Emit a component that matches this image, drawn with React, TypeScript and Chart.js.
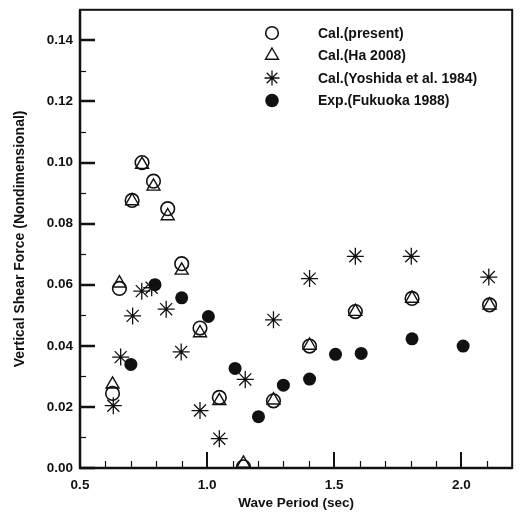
import React, { useEffect, useRef } from 'react';
import { Chart, registerables } from 'chart.js';
import { drawPoint } from 'chart.js/helpers';

Chart.register(...registerables);

// ---- data ----
const periodsCal = [0.628, 0.655, 0.705, 0.744, 0.789, 0.845, 0.900, 0.972, 1.048, 1.143, 1.261, 1.403, 1.583, 1.806, 2.111];
const calPresent = [0.0244, 0.0588, 0.0876, 0.1000, 0.0939, 0.0849, 0.0669, 0.0458, 0.0231, 0.0004, 0.0220, 0.0399, 0.0512, 0.0555, 0.0534];
const calHa = [0.0274, 0.0605, 0.0874, 0.0993, 0.0922, 0.0825, 0.0647, 0.0442, 0.0220, 0.0015, 0.0222, 0.0401, 0.0512, 0.0555, 0.0533];

const periodsYoshida = [0.631, 0.660, 0.707, 0.743, 0.782, 0.839, 0.898, 0.972, 1.048, 1.150, 1.261, 1.403, 1.583, 1.803, 2.108];
const calYoshida = [0.0204, 0.0363, 0.0498, 0.0579, 0.0590, 0.0520, 0.0380, 0.0188, 0.0096, 0.0290, 0.0485, 0.0620, 0.0693, 0.0693, 0.0625];

const periodsExp = [0.700, 0.795, 0.900, 1.005, 1.110, 1.202, 1.300, 1.403, 1.505, 1.606, 1.806, 2.007];
const expFukuoka = [0.0339, 0.0600, 0.0557, 0.0496, 0.0326, 0.0168, 0.0271, 0.0291, 0.0372, 0.0375, 0.0423, 0.0399];

const seriesLabels = ['Cal.(present)', 'Cal.(Ha 2008)', 'Cal.(Yoshida et al. 1984)', 'Exp.(Fukuoka 1988)'];

const X_TICKS = [0.5, 1.0, 1.5, 2.0];
const X_MINOR = [0.6, 0.7, 0.8, 0.9, 1.1, 1.2, 1.3, 1.4, 1.6, 1.7, 1.8, 1.9, 2.1];
const Y_TICKS = [0, 0.02, 0.04, 0.06, 0.08, 0.10, 0.12, 0.14];
const Y_MINOR = [0.01, 0.03, 0.05, 0.07, 0.09, 0.11, 0.13];

const FONT_FAMILY = '"Liberation Sans", Arial, Helvetica, sans-serif';
const INK = '#111111';

const toPoints = (xs: number[], ys: number[]) => xs.map((x, i) => ({ x, y: ys[i] }));

const frameAndTicks = {
  id: 'frameAndTicks',
  beforeDatasetsDraw(chart: any) {
    const { ctx, chartArea: a, scales } = chart;
    const xs = scales.x;
    const ys = scales.y;
    ctx.save();
    ctx.strokeStyle = INK;
    ctx.lineCap = 'butt';
    ctx.lineWidth = 2;
    X_TICKS.forEach((v) => {
      const px = Math.round(xs.getPixelForValue(v));
      ctx.beginPath();
      ctx.moveTo(px, a.bottom);
      ctx.lineTo(px, a.bottom - 16);
      ctx.stroke();
    });
    ctx.lineWidth = 1.2;
    X_MINOR.forEach((v) => {
      const px = Math.round(xs.getPixelForValue(v)) + 0.5;
      ctx.beginPath();
      ctx.moveTo(px, a.bottom);
      ctx.lineTo(px, a.bottom - 7);
      ctx.stroke();
    });
    ctx.lineWidth = 2.5;
    Y_TICKS.forEach((v) => {
      const py = Math.round(ys.getPixelForValue(v));
      ctx.beginPath();
      ctx.moveTo(a.left, py);
      ctx.lineTo(a.left + 15, py);
      ctx.stroke();
    });
    ctx.lineWidth = 1.2;
    Y_MINOR.forEach((v) => {
      const py = Math.round(ys.getPixelForValue(v)) + 0.5;
      ctx.beginPath();
      ctx.moveTo(a.left, py);
      ctx.lineTo(a.left + 6, py);
      ctx.stroke();
    });
    ctx.restore();
  },
  afterDraw(chart: any) {
    const { ctx, chartArea: a } = chart;
    ctx.save();
    ctx.strokeStyle = INK;
    ctx.lineWidth = 2;
    ctx.strokeRect(a.left, a.top, a.right - a.left, a.bottom - a.top);
    ctx.lineWidth = 2.5;
    ctx.beginPath();
    ctx.moveTo(a.left, a.top);
    ctx.lineTo(a.left, a.bottom);
    ctx.lineTo(a.right, a.bottom);
    ctx.stroke();
    ctx.restore();
  },
};

const insideLegend = {
  id: 'insideLegend',
  afterDraw(chart: any) {
    const { ctx } = chart;
    ctx.save();
    chart.data.datasets.forEach((ds: any, i: number) => {
      const y = 33 + i * 22.5;
      ctx.strokeStyle = ds.pointBorderColor;
      ctx.fillStyle = ds.pointBackgroundColor;
      ctx.lineWidth = ds.pointBorderWidth;
      drawPoint(
        ctx,
        {
          pointStyle: ds.pointStyle,
          rotation: 0,
          radius: ds.legendRadius,
          borderWidth: ds.pointBorderWidth,
        } as any,
        272,
        y
      );
      ctx.fillStyle = INK;
      ctx.font = `bold 14px ${FONT_FAMILY}`;
      ctx.textAlign = 'left';
      ctx.textBaseline = 'middle';
      ctx.fillText(seriesLabels[i], 318, y + 1);
    });
    ctx.restore();
  },
};

export default function App() {
  const canvasRef = useRef<HTMLCanvasElement | null>(null);

  useEffect(() => {
    document.body.style.margin = '0';
    const canvas = canvasRef.current;
    if (!canvas) return;
    const tickFont = { family: FONT_FAMILY, size: 13.5, weight: 'bold' as const };
    const titleFont = { family: FONT_FAMILY, size: 13.5, weight: 'bold' as const };

    const chart = new Chart(canvas, {
      type: 'scatter',
      data: {
        datasets: [
          {
            label: seriesLabels[0],
            data: toPoints(periodsCal, calPresent),
            pointStyle: 'circle',
            pointRadius: 6.8,
            legendRadius: 6.3,
            pointBorderWidth: 1.6,
            pointBorderColor: INK,
            pointBackgroundColor: 'rgba(0,0,0,0)',
            showLine: false,
          } as any,
          {
            label: seriesLabels[1],
            data: toPoints(periodsCal, calHa),
            pointStyle: 'triangle',
            pointRadius: 7.5,
            legendRadius: 7.5,
            pointBorderWidth: 1.4,
            pointBorderColor: INK,
            pointBackgroundColor: 'rgba(0,0,0,0)',
            showLine: false,
          } as any,
          {
            label: seriesLabels[2],
            data: toPoints(periodsYoshida, calYoshida),
            pointStyle: 'star',
            pointRadius: 8.5,
            legendRadius: 7.5,
            pointBorderWidth: 1.3,
            pointBorderColor: INK,
            pointBackgroundColor: INK,
            showLine: false,
          } as any,
          {
            label: seriesLabels[3],
            data: toPoints(periodsExp, expFukuoka),
            pointStyle: 'circle',
            pointRadius: 6.5,
            legendRadius: 6.8,
            pointBorderWidth: 0,
            pointBorderColor: INK,
            pointBackgroundColor: INK,
            showLine: false,
          } as any,
        ],
      },
      options: {
        animation: false,
        responsive: false,
        devicePixelRatio: 1,
        layout: { padding: { top: 3.5, right: 8, left: 0, bottom: 0 } },
        plugins: { legend: { display: false }, tooltip: { enabled: false } },
        scales: {
          x: {
            type: 'linear',
            min: 0.5,
            max: 2.2,
            grid: { display: false, drawTicks: false },
            border: { display: false },
            afterBuildTicks: (s: any) => {
              s.ticks = X_TICKS.map((v) => ({ value: v }));
            },
            afterFit: (s: any) => {
              s.height = 49;
              s.paddingLeft = 0;
              s.paddingRight = 0;
            },
            ticks: {
              padding: 9,
              color: INK,
              font: tickFont,
              maxRotation: 0,
              callback: (v: any) => Number(v).toFixed(1),
            },
            title: {
              display: true,
              text: 'Wave Period (sec)',
              color: INK,
              font: titleFont,
              padding: { top: 0, bottom: 6 },
            },
          },
          y: {
            type: 'linear',
            min: 0,
            max: 0.15,
            grid: { display: false, drawTicks: false },
            border: { display: false },
            afterBuildTicks: (s: any) => {
              s.ticks = Y_TICKS.map((v) => ({ value: v }));
            },
            afterFit: (s: any) => {
              s.width = 80;
              s.paddingTop = 0;
              s.paddingBottom = 0;
            },
            ticks: {
              padding: 7,
              color: INK,
              font: tickFont,
              callback: (v: any) => Number(v).toFixed(2),
            },
            title: {
              display: true,
              text: 'Vertical Shear Force (Nondimensional)',
              color: INK,
              font: { ...titleFont, size: 14 },
              padding: { top: 12, bottom: 0 },
            },
          },
        },
      } as any,
      plugins: [frameAndTicks, insideLegend],
    });

    return () => {
      chart.destroy();
    };
  }, []);

  return (
    <div style={{ position: 'absolute', left: 0, top: 0, width: 522, height: 517, background: '#ffffff' }}>
      <canvas ref={canvasRef} width={522} height={517} style={{ width: 522, height: 517, display: 'block' }} />
    </div>
  );
}
